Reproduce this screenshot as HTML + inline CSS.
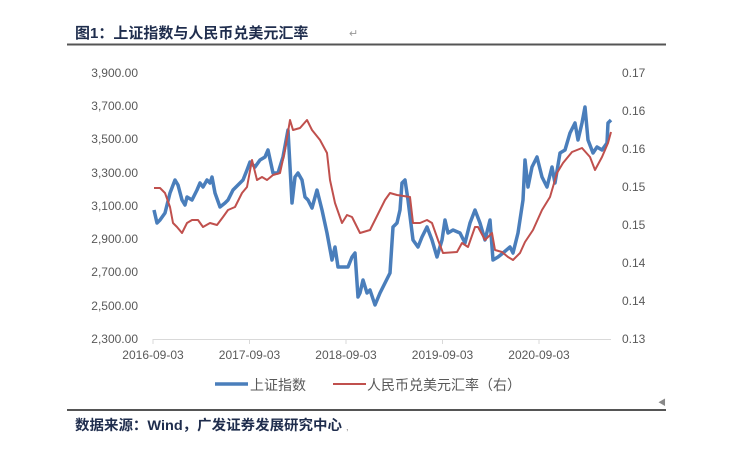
<!DOCTYPE html>
<html><head><meta charset="utf-8"><style>
body{margin:0;background:#fff;width:732px;height:449px;overflow:hidden;font-family:"Liberation Sans","Noto Sans CJK SC",sans-serif}
</style></head><body>
<svg width="732" height="449" xmlns="http://www.w3.org/2000/svg" style="position:absolute;left:0;top:0">
<text x="75" y="38" font-size="15" font-weight="bold" fill="#1f2d4d" font-family="'Liberation Sans','Noto Sans CJK SC',sans-serif">图1：上证指数与人民币兑美元汇率</text>
<text x="349" y="37" font-size="11" fill="#999">↵</text>
<line x1="67" y1="44.5" x2="666" y2="44.5" stroke="#555" stroke-width="2"/>
<g font-size="12" fill="#595959" text-anchor="end">
<text x="138" y="77">3,900.00</text><text x="138" y="110">3,700.00</text><text x="138" y="143">3,500.00</text><text x="138" y="177">3,300.00</text><text x="138" y="210">3,100.00</text><text x="138" y="243">2,900.00</text><text x="138" y="276">2,700.00</text><text x="138" y="310">2,500.00</text><text x="138" y="343">2,300.00</text>
</g>
<g font-size="12" fill="#595959">
<text x="622" y="77">0.17</text><text x="622" y="115">0.16</text><text x="622" y="153">0.16</text><text x="622" y="191">0.15</text><text x="622" y="229">0.15</text><text x="622" y="267">0.14</text><text x="622" y="305">0.14</text><text x="622" y="343">0.13</text>
</g>
<line x1="153" y1="339.5" x2="611" y2="339.5" stroke="#d9d9d9" stroke-width="1"/>
<g stroke="#d9d9d9"><line x1="153" y1="339" x2="153" y2="344"/><line x1="249.5" y1="339" x2="249.5" y2="344"/><line x1="346" y1="339" x2="346" y2="344"/><line x1="442.5" y1="339" x2="442.5" y2="344"/><line x1="539" y1="339" x2="539" y2="344"/></g>
<g font-size="12" fill="#595959" text-anchor="middle">
<text x="153" y="359">2016-09-03</text><text x="249.5" y="359">2017-09-03</text><text x="346" y="359">2018-09-03</text><text x="442.5" y="359">2019-09-03</text><text x="539" y="359">2020-09-03</text>
</g>
<polyline fill="none" stroke="#4a7ebb" stroke-width="3.5" stroke-linejoin="round" points="154,210 157,223 160,220 165,213 170,193 175,180 178,185 182,200 185,205 187,197 192,200 197,190 200,183 203,187 207,180 210,183 212,177 215,193 220,207 225,203 228,200 233,190 238,185 243,180 247,170 250,162 255,167 260,160 265,157 268,150 273,173 278,173 283,157 288,130 292,203 295,177 298,173 302,180 305,197 308,200 312,208 317,190 322,210 327,233 332,260 335,247 338,267 343,267 348,267 352,257 355,253 358,297 360,293 363,280 367,293 370,290 375,305 380,293 385,283 390,273 393,227 397,223 400,210 402,183 405,180 408,200 413,240 418,247 422,237 427,227 432,240 437,257 442,240 445,220 448,233 453,230 460,233 465,243 470,223 475,210 480,223 485,240 490,220 493,260 498,257 503,253 510,247 513,253 518,233 523,200 525,160 528,187 532,167 537,157 542,177 547,187 552,167 555,183 560,153 565,150 570,133 575,123 578,140 582,123 585,107 588,140 593,153 597,147 602,150 607,143 608,123 611,120"/>
<polyline fill="none" stroke="#c0504d" stroke-width="2" stroke-linejoin="round" points="154,188 160,188 165,193 170,207 173,223 177,227 182,233 187,223 192,220 198,220 203,227 210,223 217,225 223,217 228,210 235,207 242,193 247,187 252,160 257,180 262,177 267,180 273,175 280,173 285,150 290,120 293,130 300,128 307,120 312,130 320,140 327,153 330,180 335,203 342,223 347,215 352,217 357,227 360,233 370,230 375,220 380,210 385,200 390,193 397,195 410,197 413,223 420,223 427,220 432,223 438,240 443,253 457,252 462,243 468,247 475,227 478,227 485,240 492,233 495,250 502,252 508,257 513,260 520,253 525,242 533,230 542,210 550,197 557,173 563,163 572,152 582,148 590,157 595,170 602,157 608,143 611,132"/>
<line x1="215" y1="384" x2="248" y2="384" stroke="#4a7ebb" stroke-width="3.5"/>
<text x="250" y="390" font-size="14" fill="#595959">上证指数</text>
<line x1="333" y1="384" x2="366" y2="384" stroke="#c0504d" stroke-width="2"/>
<text x="367" y="390" font-size="14" fill="#595959">人民币兑美元汇率（右）</text>
<text x="658" y="405" font-size="8" fill="#888">◀</text>
<line x1="67" y1="410" x2="666" y2="410" stroke="#555" stroke-width="2"/>
<text x="75" y="430" font-size="14" font-weight="bold" fill="#1f2d4d" textLength="267" lengthAdjust="spacingAndGlyphs">数据来源：Wind，广发证券发展研究中心</text>
<text x="346" y="430" font-size="9" fill="#888">,</text>
</svg>
</body></html>
